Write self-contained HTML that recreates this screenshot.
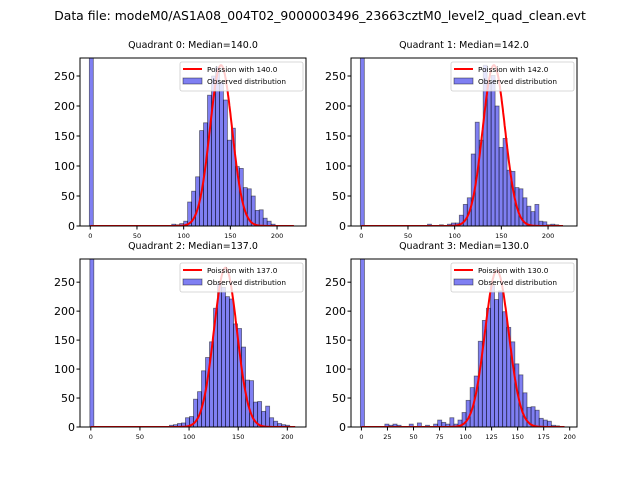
<!DOCTYPE html>
<html><head><meta charset="utf-8"><style>
body{margin:0;background:#fff;}
svg{display:block;font-family:"DejaVu Sans","Liberation Sans",sans-serif;}
</style></head><body>
<svg id="fig" width="640" height="480" viewBox="0 0 640 480">
<rect width="640" height="480" fill="#fff"/>
<text x="320" y="20" font-size="12.4" text-anchor="middle">Data file: modeM0/AS1A08_004T02_9000003496_23663cztM0_level2_quad_clean.evt</text>
</svg>
<script>
// histogram counts per quadrant, starting at binStarts with binWidths
const q0Counts=[3,2,4,8,40,58,82,159,172,218,250,265,240,210,143,163,99,96,64,62,50,26,27,13,8,3,1,1,1];
const q1Counts=[3,0,1,2,1,3,5,5,18,36,47,120,173,143,268,240,251,200,131,146,93,91,64,62,47,33,24,36,8,7,2,3,2];
const q2Counts=[3,4,6,7,16,18,48,61,97,120,147,205,248,241,225,221,178,170,138,81,80,43,44,27,36,16,10,6,4,3];
const q3Counts=[5,3,5,3,0,0,5,0,7,0,3,0,5,12,8,5,16,5,12,25,46,68,88,148,184,205,244,220,235,199,172,147,109,90,59,34,35,29,15,12,10,3,2];
const zeroBinCounts=[1000,1000,1000,1000];
const binStarts=[87.2,70.9,80,22.5];
const binWidths=[4.26,4.26,4.08,3.9];
const medians=[140,142,137,130];
const poissonPeaks=[268,268,275,270];
const curveEnds=[218,216,208,195];
const xLims=[[-11,231],[-11,231],[-11,219],[-10,207]];
const xTicks=[[0,50,100,150,200],[0,50,100,150,200],[0,50,100,150,200],[0,25,50,75,100,125,150,175,200]];
const yTicks=[0,50,100,150,200,250];
const yMaxes=[280,280,290,290];

const NS="http://www.w3.org/2000/svg";
const svg=document.getElementById('fig');
function mk(tag,attrs,parent){const e=document.createElementNS(NS,tag);for(const k in attrs)e.setAttribute(k,attrs[k]);(parent||svg).appendChild(e);return e;}
const boxes=[[80,58,226,168],[351,58,226,168],[80,259,226,168],[351,259,226,168]];
const allCounts=[q0Counts,q1Counts,q2Counts,q3Counts];
for(let q=0;q<4;q++){
  const [L,T,W,H]=boxes[q];
  const yMax=yMaxes[q];
  const g=mk('g',{});
  
  
  const xs=v=>L+(v-xLims[q][0])/(xLims[q][1]-xLims[q][0])*W;
  const ys=v=>T+H-Math.min(v,yMax*1.05)/yMax*H;
  const cp=mk('clipPath',{id:'cp'+q},g);
  mk('rect',{x:L,y:T,width:W,height:H},cp);
  const bars=mk('g',{'clip-path':'url(#cp'+q+')'},g);
  const bw=binWidths[q];
  const drawBar=(x0v,c)=>{
    if(c<=0)return;
    const x0=xs(x0v),x1=xs(x0v+bw);
    const r=mk('rect',{x:x0,y:ys(c),width:x1-x0,height:ys(0)-ys(c),fill:'rgba(0,0,230,0.5)',stroke:'rgba(0,0,0,0.5)','stroke-width':0.8},bars);
    
    
  };
  drawBar(-1,zeroBinCounts[q]);
  allCounts[q].forEach((c,i)=>drawBar(binStarts[q]+i*bw,c));
  const mu=medians[q],sd=Math.sqrt(mu);
  let d='';
  for(let v=0;v<=curveEnds[q];v+=0.5){const y=poissonPeaks[q]*Math.exp(-((v-mu)**2)/(2*sd*sd));d+=(d?'L':'M')+xs(v).toFixed(1)+','+ys(y).toFixed(1);}
  const p=mk('path',{d:d,fill:'none',stroke:'#f00','stroke-width':2},bars);
  
  
  mk('rect',{x:L,y:T,width:W,height:H,fill:'none',stroke:'#000','stroke-width':1},g);
  yTicks.forEach(t=>{
    mk('line',{x1:L-3.5,x2:L,y1:ys(t),y2:ys(t),stroke:'#000'},g);
    const tx=mk('text',{x:L-5,y:ys(t)+4,'font-size':11,'text-anchor':'end'},g);tx.textContent=t;
    
    
  });
  xTicks[q].forEach(t=>{
    mk('line',{x1:xs(t),x2:xs(t),y1:T+H,y2:T+H+3.5,stroke:'#000'},g);
    const tx=mk('text',{x:xs(t),y:T+H+12,'font-size':6.5,'text-anchor':'middle'},g);tx.textContent=t;
    
    
  });
  const ti=mk('text',{x:L+W/2,y:T-10,'font-size':9.5,'text-anchor':'middle'},g);
  ti.textContent='Quadrant '+q+': Median='+medians[q].toFixed(1);
  
  
  const lg=mk('g',{},g);
  
  
  const lx=L+W-126;
  mk('rect',{x:lx,y:T+4,width:123,height:29,rx:2,fill:'rgba(255,255,255,0.8)',stroke:'#ccc','stroke-width':0.8},lg);
  mk('line',{x1:lx+3,x2:lx+22,y1:T+11,y2:T+11,stroke:'#f00','stroke-width':2},lg);
  mk('rect',{x:lx+3,y:T+20,width:19,height:6,fill:'rgba(0,0,230,0.5)',stroke:'rgba(0,0,0,0.5)','stroke-width':0.8},lg);
  const t1=mk('text',{x:lx+27,y:T+14,'font-size':7.3},lg);t1.textContent='Poission with '+medians[q].toFixed(1);
  const t2=mk('text',{x:lx+27,y:T+26,'font-size':7.3},lg);t2.textContent='Observed distribution';
}
</script>
</body></html>
